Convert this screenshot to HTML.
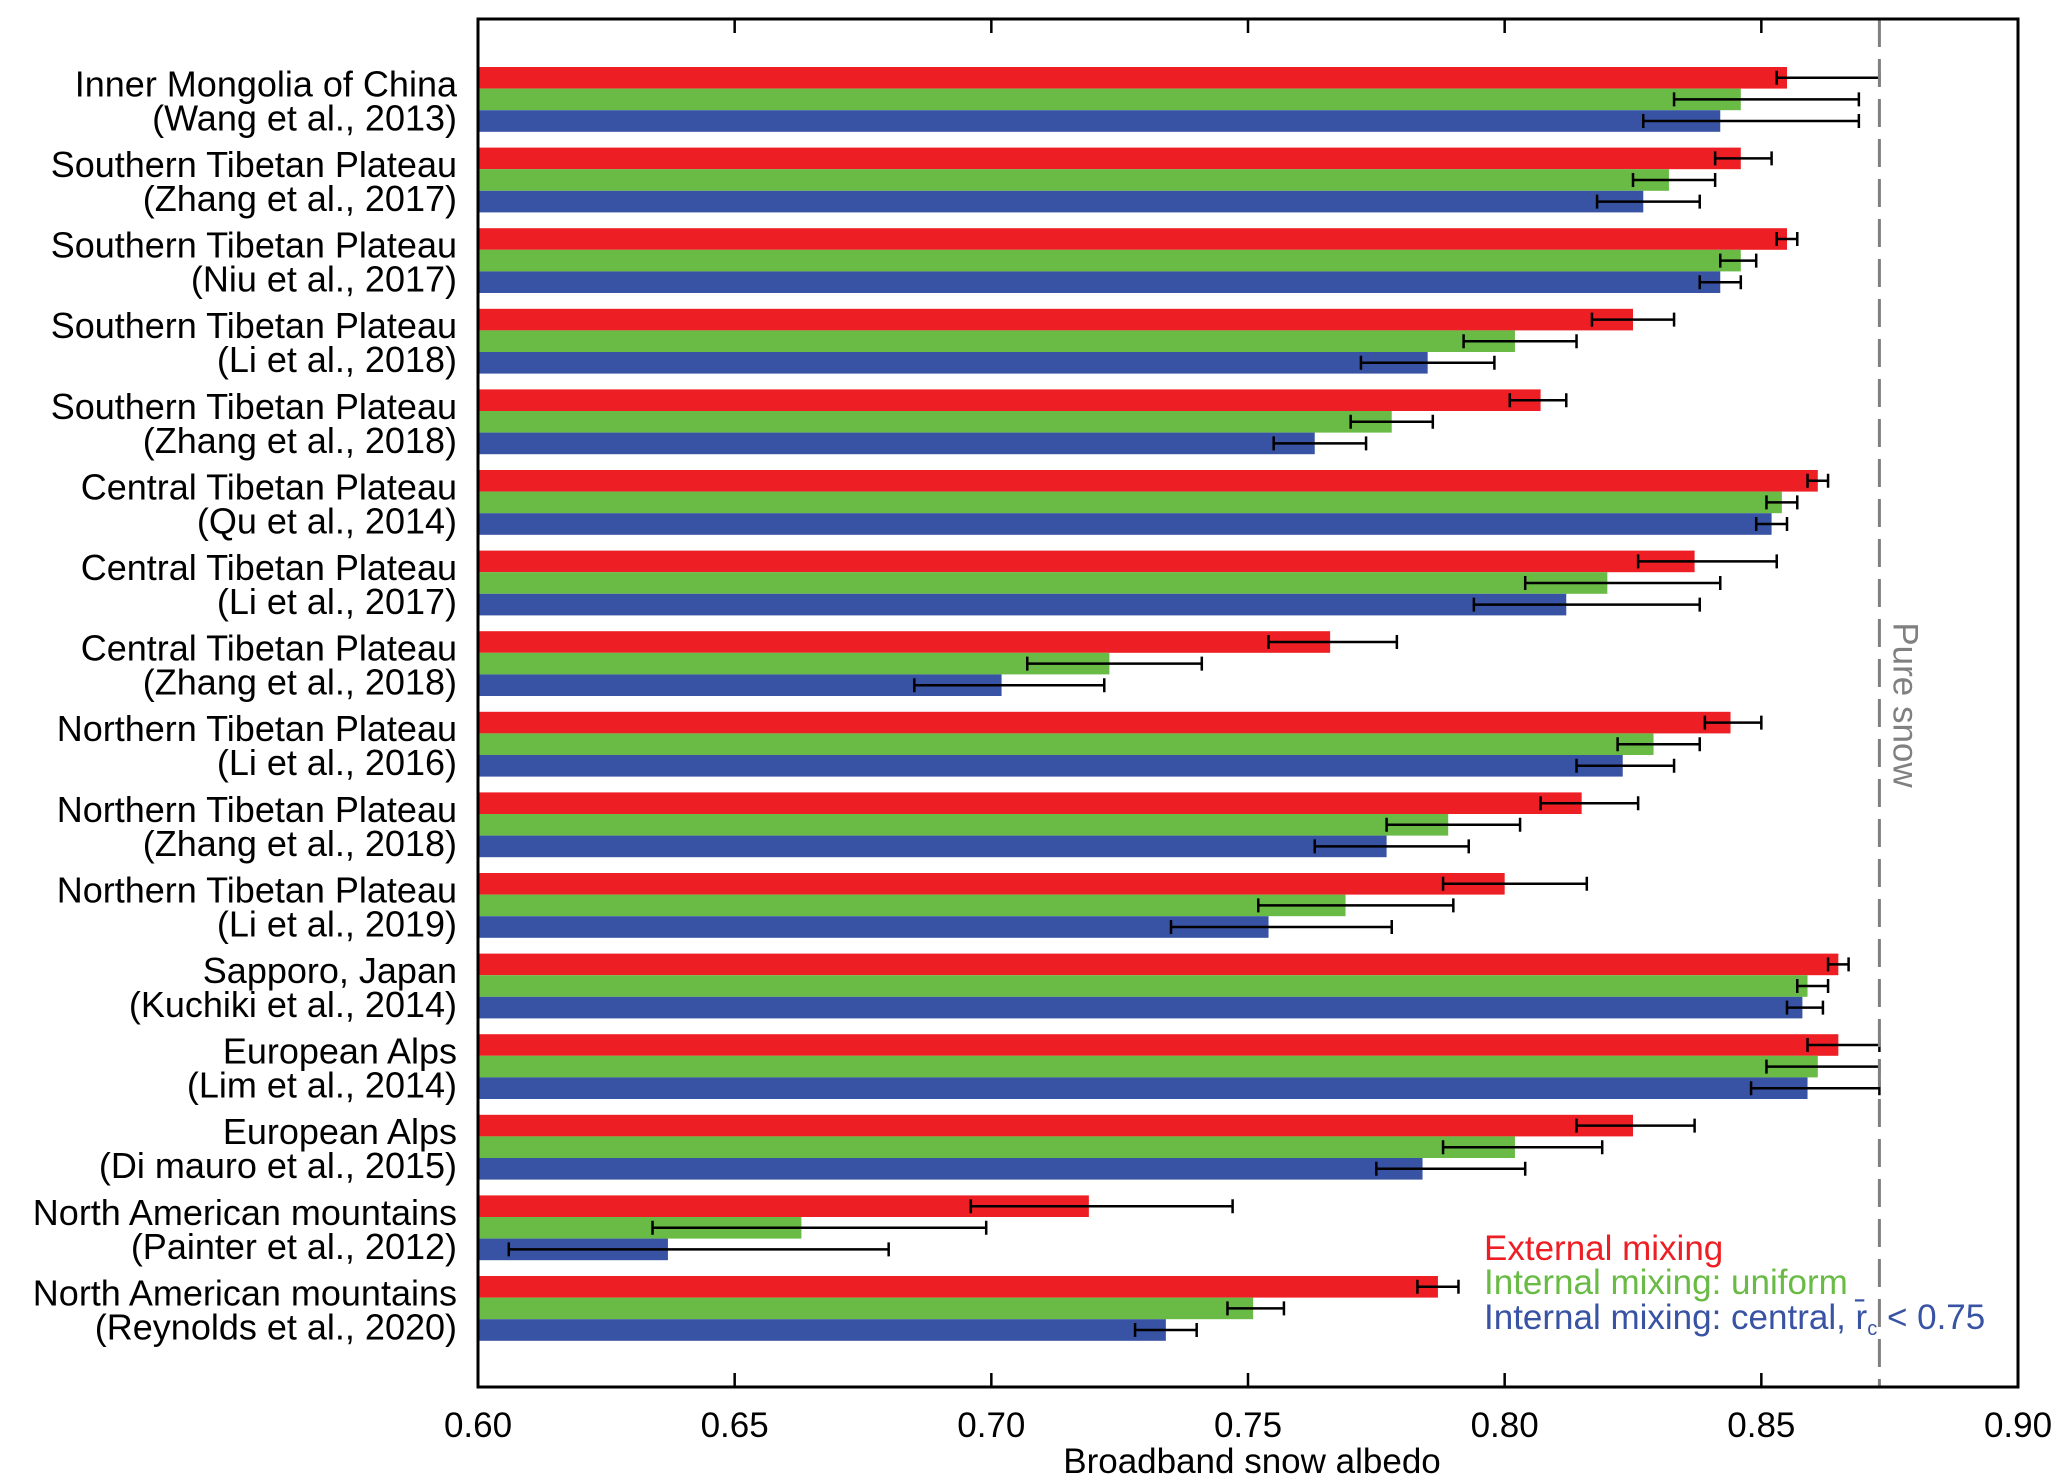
<!DOCTYPE html>
<html><head><meta charset="utf-8"><style>
html,body{margin:0;padding:0;background:#fff;}
svg{display:block;font-family:"Liberation Sans",sans-serif;}
</style></head><body>
<svg id="chart" width="2067" height="1483" viewBox="0 0 2067 1483" xmlns="http://www.w3.org/2000/svg">
<g id="plot"></g>
</svg>
<script>
const line1 = ["Inner Mongolia of China","Southern Tibetan Plateau","Southern Tibetan Plateau","Southern Tibetan Plateau","Southern Tibetan Plateau","Central Tibetan Plateau","Central Tibetan Plateau","Central Tibetan Plateau","Northern Tibetan Plateau","Northern Tibetan Plateau","Northern Tibetan Plateau","Sapporo, Japan","European Alps","European Alps","North American mountains","North American mountains"];
const line2 = ["(Wang et al., 2013)","(Zhang et al., 2017)","(Niu et al., 2017)","(Li et al., 2018)","(Zhang et al., 2018)","(Qu et al., 2014)","(Li et al., 2017)","(Zhang et al., 2018)","(Li et al., 2016)","(Zhang et al., 2018)","(Li et al., 2019)","(Kuchiki et al., 2014)","(Lim et al., 2014)","(Di mauro et al., 2015)","(Painter et al., 2012)","(Reynolds et al., 2020)"];
const extVal = [0.855,0.846,0.855,0.825,0.807,0.861,0.837,0.766,0.844,0.815,0.800,0.865,0.865,0.825,0.719,0.787];
const extLo  = [0.853,0.841,0.853,0.817,0.801,0.859,0.826,0.754,0.839,0.807,0.788,0.863,0.859,0.814,0.696,0.783];
const extHi  = [0.873,0.852,0.857,0.833,0.812,0.863,0.853,0.779,0.850,0.826,0.816,0.867,0.873,0.837,0.747,0.791];
const uniVal = [0.846,0.832,0.846,0.802,0.778,0.854,0.820,0.723,0.829,0.789,0.769,0.859,0.861,0.802,0.663,0.751];
const uniLo  = [0.833,0.825,0.842,0.792,0.770,0.851,0.804,0.707,0.822,0.777,0.752,0.857,0.851,0.788,0.634,0.746];
const uniHi  = [0.869,0.841,0.849,0.814,0.786,0.857,0.842,0.741,0.838,0.803,0.790,0.863,0.873,0.819,0.699,0.757];
const cenVal = [0.842,0.827,0.842,0.785,0.763,0.852,0.812,0.702,0.823,0.777,0.754,0.858,0.859,0.784,0.637,0.734];
const cenLo  = [0.827,0.818,0.838,0.772,0.755,0.849,0.794,0.685,0.814,0.763,0.735,0.855,0.848,0.775,0.606,0.728];
const cenHi  = [0.869,0.838,0.846,0.798,0.773,0.855,0.838,0.722,0.833,0.793,0.778,0.862,0.873,0.804,0.680,0.740];
const xTicks = [0.60,0.65,0.70,0.75,0.80,0.85,0.90];
const pureSnow = 0.873;

const NS="http://www.w3.org/2000/svg";
const g=document.getElementById('plot');
const L=478,R=2018,T=19,B=1387;
const x=v=>L+(v-0.6)/0.3*(R-L);
const gTop=i=>67+i*80.6;
const BH=21.6;
function mk(tag,attrs,parent){const e=document.createElementNS(NS,tag);for(const k in attrs)e.setAttribute(k,attrs[k]);(parent||g).appendChild(e);return e;}
const series=[[extVal,extLo,extHi,'#ed1f24','ext'],[uniVal,uniLo,uniHi,'#69bb45','uniform'],[cenVal,cenLo,cenHi,'#3853a4','central']];
for(let i=0;i<line1.length;i++){
  series.forEach((s,j)=>{
    const y=gTop(i)+j*BH;
    const r=mk('rect',{x:L,y:y,width:x(s[0][i])-L,height:BH,fill:s[3]});
    
    
    const cy=y+BH/2;
    const e=mk('path',{d:`M${x(s[1][i])},${cy}H${x(s[2][i])}M${x(s[1][i])},${cy-7}V${cy+7}M${x(s[2][i])},${cy-7}V${cy+7}`,stroke:'#000','stroke-width':2.5,fill:'none'});
    
    
  });
  const c=gTop(i)+32.4;
  const t1=mk('text',{x:457,y:c-3,'text-anchor':'end','font-size':36,fill:'#000'});t1.textContent=line1[i];
  
  
  const t2=mk('text',{x:457,y:c+31,'text-anchor':'end','font-size':36,fill:'#000'});t2.textContent=line2[i];
  
  
}
const ps=mk('line',{x1:x(pureSnow),x2:x(pureSnow),y1:T,y2:B,stroke:'#808080','stroke-width':3,'stroke-dasharray':'28 12'});


const pst=mk('text',{x:0,y:0,'font-size':35,fill:'#808080','text-anchor':'middle',transform:`translate(${x(pureSnow)+14},705) rotate(90)`});pst.textContent='Pure snow';


const ax=mk('rect',{x:L,y:T,width:R-L,height:B-T,fill:'none',stroke:'#000','stroke-width':3});


xTicks.forEach(v=>{
  mk('line',{x1:x(v),x2:x(v),y1:B,y2:B-14,stroke:'#000','stroke-width':2.5});
  mk('line',{x1:x(v),x2:x(v),y1:T,y2:T+14,stroke:'#000','stroke-width':2.5});
  const t=mk('text',{x:x(v),y:1437,'text-anchor':'middle','font-size':35,fill:'#000'});t.textContent=v.toFixed(2);
  
  
});
const xt=mk('text',{x:1252,y:1473,'text-anchor':'middle','font-size':35,fill:'#000'});xt.textContent='Broadband snow albedo';


const lg=[['External mixing','#ed1f24',1260],['Internal mixing: uniform','#69bb45',1294],['Internal mixing: central, r\u0304','#3853a4',1329]];
lg.forEach(l=>{
  const t=mk('text',{x:1484,y:l[2],'font-size':35,fill:l[1]});t.textContent=l[0];
  
  
  if(l[2]===1329){
    const s=mk('tspan',{'font-size':20,dy:6},t);s.textContent='c';
    const s2=mk('tspan',{dy:-6},t);s2.textContent=' < 0.75';
  }
});
</script>
</body></html>
